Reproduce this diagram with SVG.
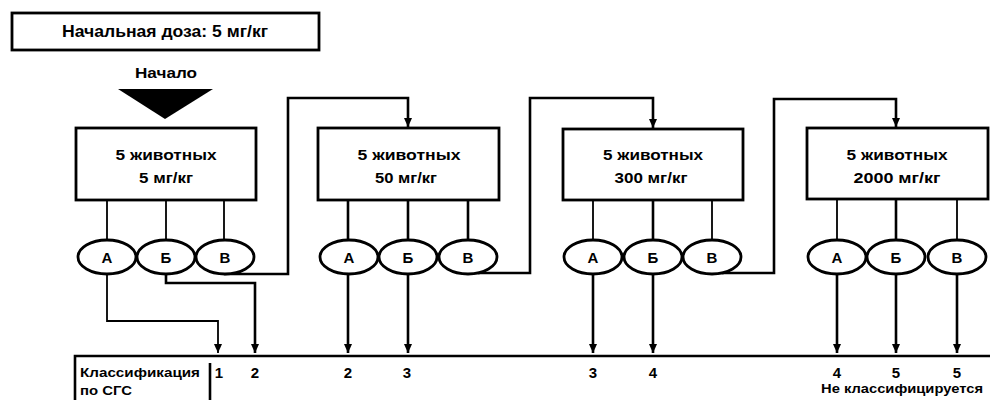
<svg xmlns="http://www.w3.org/2000/svg" width="990" height="400" viewBox="0 0 990 400">
<style>
  .box { fill: #fff; stroke: #000; stroke-width: 2.8; }
  .ell { fill: #fff; stroke: #000; stroke-width: 2.8; }
  .t { font-family: "Liberation Sans", Arial, sans-serif; font-weight: bold; fill: #000; }
  .ln { fill: none; stroke: #000; stroke-width: 2.6; }
  .thin { fill: none; stroke: #000; stroke-width: 1.8; }
</style>
<defs>
  <marker id="arr" markerUnits="userSpaceOnUse" markerWidth="9" markerHeight="8" refX="9" refY="4" orient="auto" viewBox="0 0 9 8">
    <path d="M0,0 L9,4 L0,8 Z" fill="#000"/>
  </marker>
</defs>
<rect width="990" height="400" fill="#fff"/>

<g id="start-dose">
  <rect class="box" x="12" y="13" width="307" height="37"/>
  <text class="t" x="165" y="37" font-size="16" text-anchor="middle" textLength="206" lengthAdjust="spacingAndGlyphs">Начальная доза: 5 мг/кг</text>
</g>
<g id="start">
  <text class="t" x="166" y="78" font-size="15" text-anchor="middle" textLength="62" lengthAdjust="spacingAndGlyphs">Начало</text>
  <polygon points="118,89 213,89 165,119" fill="#000"/>
</g>

<g id="group1">
  <rect class="box" x="76" y="128" width="180" height="72"/>
  <text class="t" x="166" y="160" font-size="14" text-anchor="middle" textLength="101" lengthAdjust="spacingAndGlyphs">5 животных</text>
  <text class="t" x="166" y="183" font-size="14" text-anchor="middle" textLength="54" lengthAdjust="spacingAndGlyphs">5 мг/кг</text>
</g>
<g id="group2">
  <rect class="box" x="318" y="128" width="181" height="72"/>
  <text class="t" x="409" y="160" font-size="14" text-anchor="middle" textLength="103" lengthAdjust="spacingAndGlyphs">5 животных</text>
  <text class="t" x="406" y="183" font-size="14" text-anchor="middle" textLength="62" lengthAdjust="spacingAndGlyphs">50 мг/кг</text>
</g>
<g id="group3">
  <rect class="box" x="563" y="129" width="180" height="71"/>
  <text class="t" x="653" y="160" font-size="14" text-anchor="middle" textLength="100" lengthAdjust="spacingAndGlyphs">5 животных</text>
  <text class="t" x="651" y="183" font-size="14" text-anchor="middle" textLength="73" lengthAdjust="spacingAndGlyphs">300 мг/кг</text>
</g>
<g id="group4">
  <rect class="box" x="807" y="128" width="181" height="71"/>
  <text class="t" x="897" y="160" font-size="14" text-anchor="middle" textLength="101" lengthAdjust="spacingAndGlyphs">5 животных</text>
  <text class="t" x="897" y="183" font-size="14" text-anchor="middle" textLength="87" lengthAdjust="spacingAndGlyphs">2000 мг/кг</text>
</g>

<g id="connectors">
  <path class="thin" d="M107 200 V240 M166 200 V240 M224 200 V240"/>
  <path class="ln" d="M348 200 V240 M408 200 V240 M468 200 V240"/>
  <path class="thin" d="M593 200 V240 M712 200 V240"/>
  <path class="ln" d="M653 200 V240"/>
  <path class="thin" d="M837 199 V240 M957 199 V240"/>
  <path class="ln" d="M896 199 V240"/>

  <path class="ln" d="M224 274 H288 V98 H408 V127" marker-end="url(#arr)"/>
  <path class="ln" d="M478 273 H530 V98 H653 V128" marker-end="url(#arr)"/>
  <path class="ln" d="M722 273 H774 V99 H896 V127" marker-end="url(#arr)"/>

  <path class="thin" d="M107 274 V321 H218 V353" marker-end="url(#arr)"/>
  <path class="ln" d="M166 274 V283 H255 V353" marker-end="url(#arr)"/>
  <path class="ln" d="M348 274 V353" marker-end="url(#arr)"/>
  <path class="ln" d="M408 274 V353" marker-end="url(#arr)"/>
  <path class="ln" d="M593 274 V353" marker-end="url(#arr)"/>
  <path class="ln" d="M653 274 V353" marker-end="url(#arr)"/>
  <path class="ln" d="M837 274 V353" marker-end="url(#arr)"/>
  <path class="ln" d="M896 274 V353" marker-end="url(#arr)"/>
  <path class="ln" d="M957 274 V353" marker-end="url(#arr)"/>
</g>

<g id="subgroups1">
  <ellipse class="ell" cx="107" cy="257" rx="29" ry="17"/>
  <ellipse class="ell" cx="166" cy="257" rx="29" ry="17"/>
  <ellipse class="ell" cx="225" cy="257" rx="29" ry="17"/>
  <text class="t" x="107" y="263" font-size="15" text-anchor="middle">А</text>
  <text class="t" x="166" y="263" font-size="15" text-anchor="middle">Б</text>
  <text class="t" x="225" y="263" font-size="15" text-anchor="middle">В</text>
</g>
<g id="subgroups2">
  <ellipse class="ell" cx="349" cy="257" rx="29" ry="17"/>
  <ellipse class="ell" cx="408" cy="257" rx="29" ry="17"/>
  <ellipse class="ell" cx="468" cy="257" rx="29" ry="17"/>
  <text class="t" x="349" y="263" font-size="15" text-anchor="middle">А</text>
  <text class="t" x="408" y="263" font-size="15" text-anchor="middle">Б</text>
  <text class="t" x="468" y="263" font-size="15" text-anchor="middle">В</text>
</g>
<g id="subgroups3">
  <ellipse class="ell" cx="593" cy="257" rx="29" ry="17"/>
  <ellipse class="ell" cx="653" cy="257" rx="29" ry="17"/>
  <ellipse class="ell" cx="712" cy="257" rx="29" ry="17"/>
  <text class="t" x="593" y="263" font-size="15" text-anchor="middle">А</text>
  <text class="t" x="653" y="263" font-size="15" text-anchor="middle">Б</text>
  <text class="t" x="712" y="263" font-size="15" text-anchor="middle">В</text>
</g>
<g id="subgroups4">
  <ellipse class="ell" cx="837" cy="257" rx="29" ry="17"/>
  <ellipse class="ell" cx="896" cy="257" rx="29" ry="17"/>
  <ellipse class="ell" cx="957" cy="257" rx="29" ry="17"/>
  <text class="t" x="837" y="263" font-size="15" text-anchor="middle">А</text>
  <text class="t" x="896" y="263" font-size="15" text-anchor="middle">Б</text>
  <text class="t" x="957" y="263" font-size="15" text-anchor="middle">В</text>
</g>

<g id="classification">
  <path class="ln" d="M75 401 V356 H990"/>
  <path class="ln" d="M210 363 V401"/>
  <text class="t" x="80" y="377" font-size="13" textLength="120" lengthAdjust="spacingAndGlyphs">Классификация</text>
  <text class="t" x="80" y="395" font-size="13" textLength="52" lengthAdjust="spacingAndGlyphs">по СГС</text>
  <g font-size="15" text-anchor="middle">
    <text class="t" x="219" y="378">1</text>
    <text class="t" x="255" y="378">2</text>
    <text class="t" x="348" y="378">2</text>
    <text class="t" x="407" y="378">3</text>
    <text class="t" x="593" y="378">3</text>
    <text class="t" x="653" y="378">4</text>
    <text class="t" x="837" y="378">4</text>
    <text class="t" x="896" y="378">5</text>
    <text class="t" x="957" y="378">5</text>
  </g>
  <text class="t" x="983" y="393" font-size="13" text-anchor="end" textLength="162" lengthAdjust="spacingAndGlyphs">Не классифицируется</text>
</g>
</svg>
